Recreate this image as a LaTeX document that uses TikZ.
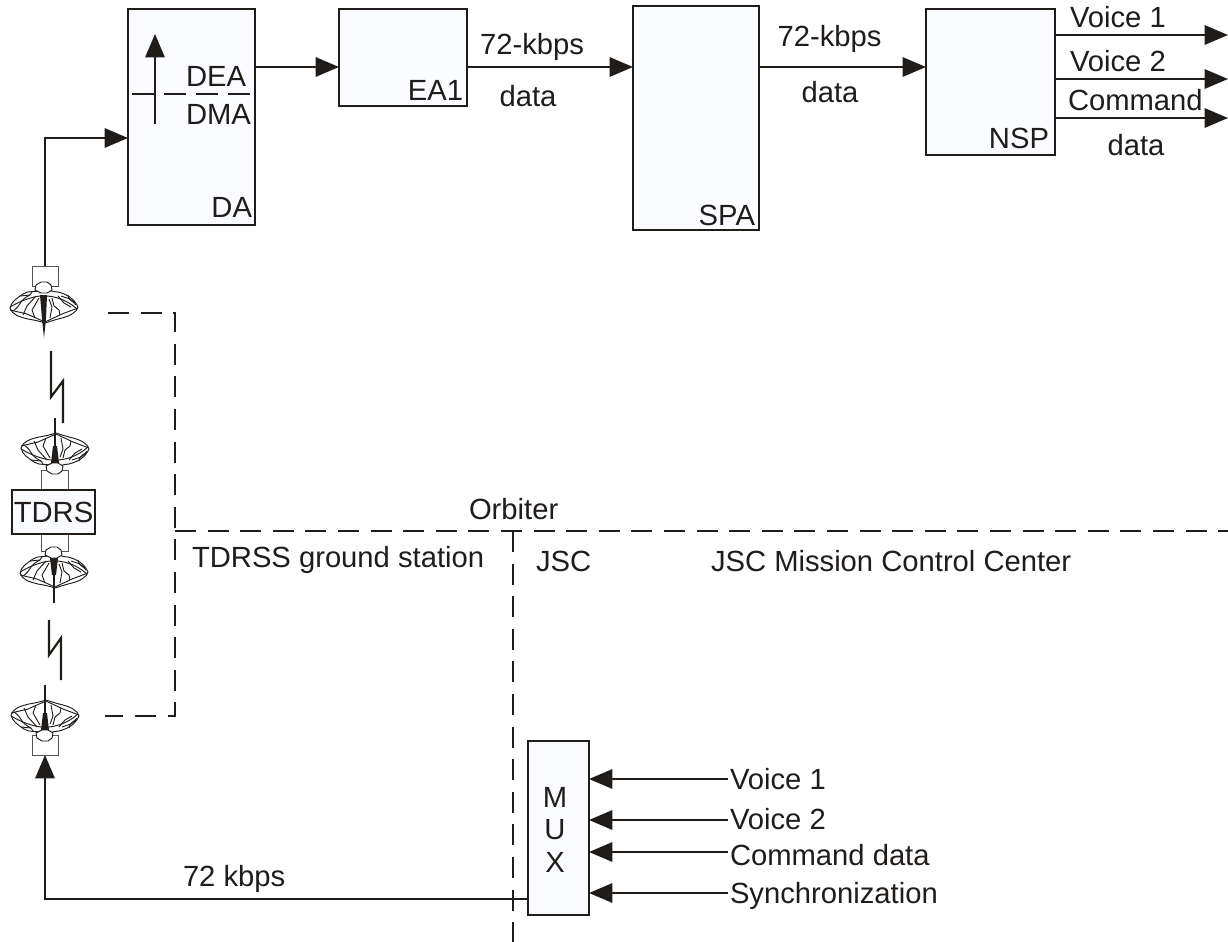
\documentclass[tikz,border=0pt]{standalone}
\usepackage{fontspec}
\setmainfont{Liberation Sans}
\usetikzlibrary{arrows.meta,calc}
\definecolor{boxfill}{HTML}{FBFCFF}
\definecolor{ink}{HTML}{1F1C1A}
\newcommand{\dishbody}{%
    \path[thin dish,fill=white] (-34,1) .. controls (-33,-5) and (-27,-9) .. (-21,-13)
      .. controls (-15,-17) and (-10,-14) .. (-3,-17)
      .. controls (5,-18) and (8,-15) .. (14,-15)
      .. controls (22,-13) and (30,-9) .. (34,0)
      .. controls (33,5) and (26,9) .. (18,11)
      .. controls (14,12) and (10,13) .. (1,16)
      .. controls (-5,14) and (-10,13) .. (-16,12)
      .. controls (-24,10) and (-32,8) .. (-34,1) -- cycle;
    \path[thin dish] (-34,3) -- (-17,7) -- (1,15) -- (18,7) -- (34,1);
    \path[thin dish] (-34,0) .. controls (-22,-7) and (-12,-10) .. (-4,-11)
      .. controls (8,-12) and (22,-8) .. (33,2);
    \path[thin dish] (-31,4) .. controls (-22,-2) and (-26,-6) .. (-14,-12)
      (24,-12) .. controls (24,-6) and (30,-6) .. (32,-2);
    \path[thin dish] (-8,-11) -- (-17,-1) -- (-21,8)
      (-5,-9) -- (-9,-2) -- (-12,3) -- (-9,11)
      (8,-9) -- (10,-1) -- (15,3) -- (16,8)
      (5,-8) -- (8,0) -- (6,11)
      (14,-11) -- (20,-4) -- (27,0)
      (-24,-11) -- (-14,-12) -- (-12,-15)
      (17,-11) -- (26,-8) -- (31,-4);
}
\newcommand{\dishneck}{%
    \path[thin dish,fill=white] (-9,-17) -- (-8,-22) -- (-3,-25) -- (3,-25) -- (7,-22) -- (8,-17) -- (3,-14) -- (-3,-14) -- cycle;
}
\tikzset{
  x=.75pt,y=-.75pt,
  every node/.style={font=\fontsize{21.9}{24}\selectfont,text=ink,inner sep=0pt,outer sep=0pt},
  blk/.style={draw=ink,line width=1.8pt,fill=boxfill,rectangle},
  stub/.style={draw=ink!75,line width=.6pt,fill=white,rectangle},
  lbl/.style={anchor=base west},
  rlbl/.style={anchor=base east},
  clbl/.style={anchor=base},
  wire/.style={draw=ink,line width=1.5pt},
  flow/.style={wire,-{Triangle[length=17.5pt,width=14.5pt]}},
  bound/.style={draw=ink,line width=1.5pt,dash pattern=on 15.7pt off 8.75pt},
  bolt/.style={draw=ink,line width=1.6pt,line join=miter},
  thin dish/.style={draw=ink,line width=.7pt,line join=round},
  pics/dishthick/.style={code={
    \dishbody
    \path[fill=ink] (-4,-12) -- (3,-12) -- (2,12) -- (0,31) -- (-2,12) -- cycle;
    \dishneck
  }},
  pics/dishthin/.style={code={
    \dishbody
    \path[fill=ink] (-4,-14) -- (4,-14) -- (2,3) -- (-2,3) -- cycle;
    \path[draw=ink,line width=1pt] (0,-12) -- (0,31);
    \dishneck
  }}
}
\begin{document}
\begin{tikzpicture}
\useasboundingbox (0,0) rectangle (1228,942);
% reference levels
\coordinate (lv67) at (0,67);
\coordinate (out1) at (1228,35);
\coordinate (out2) at (1228,79);
\coordinate (out3) at (1228,118);
\coordinate (m1) at (728,779);
\coordinate (m2) at (728,820);
\coordinate (m3) at (728,852);
\coordinate (m4) at (728,893);
\coordinate (inUp) at (45,138);
\coordinate (upCorner) at (45,899);
\coordinate (bstart) at (108,313);
\coordinate (bc1) at (175,313);
\coordinate (bc2) at (175,716);
\coordinate (bend) at (105,716);
\coordinate (hstart) at (175,531);
\coordinate (hend) at (1228,531);
\coordinate (vstart) at (513,531);
\coordinate (vend) at (513,942);

% blocks
\node[blk,minimum width=127*.75pt,minimum height=216*.75pt] (da) at (191.5,117) {};
\node[blk,minimum width=128*.75pt,minimum height=97*.75pt] (ea) at (403,57.5) {};
\node[blk,minimum width=126*.75pt,minimum height=224*.75pt] (spa) at (696,118) {};
\node[blk,minimum width=129*.75pt,minimum height=146*.75pt] (nsp) at (990.5,82) {};
\node[blk,minimum width=61*.75pt,minimum height=174*.75pt] (mux) at (558.5,828) {};

% boundaries
\draw[bound] (bstart) -- (bc1) -- (bc2) -- (bend);
\draw[bound] (hstart) -- (hend);
\draw[bound] (vstart) -- (vend);

% antennas
\node[stub,minimum width=26*.75pt,minimum height=20*.75pt] (ant1) at (45,276) {};
\pic at (44,307) {dishthick};
\node[stub,minimum width=27*.75pt,minimum height=20*.75pt] (ant2) at (54.5,480) {};
\node[stub,minimum width=27*.75pt,minimum height=17*.75pt] (ant3) at (54.5,542.5) {};
\node[blk,minimum width=83*.75pt,minimum height=44*.75pt] (tdrs) at (53.5,512) {TDRS};
\pic[yscale=-1] at (55,449) {dishthin};
\pic at (54,572) {dishthin};
\node[stub,minimum width=26*.75pt,minimum height=20*.75pt] (ant4) at (45,745) {};
\pic[yscale=-1] at (45,716) {dishthin};

% lightning
\draw[bolt] (51,351) -- (51,397) -- (63,381) -- (63,423);
\draw[bolt] (49,620) -- (49,655) -- (61,638) -- (61,680);

% connectors
\draw[flow] (ant1.north) -- (ant1.north |- inUp) -- (da.west |- inUp);
\draw[flow] (da.east |- lv67) -- (ea.west |- lv67);
\draw[flow] (ea.east |- lv67) -- (spa.west |- lv67);
\draw[flow] (spa.east |- lv67) -- (nsp.west |- lv67);
\draw[flow] (nsp.east |- out1) -- (out1);
\draw[flow] (nsp.east |- out2) -- (out2);
\draw[flow] (nsp.east |- out3) -- (out3);
\draw[flow] (mux.west |- upCorner) -- (ant4.south |- upCorner) -- (ant4.south);
\draw[flow] (m1) -- (mux.east |- m1);
\draw[flow] (m2) -- (mux.east |- m2);
\draw[flow] (m3) -- (mux.east |- m3);
\draw[flow] (m4) -- (mux.east |- m4);

% inside DA
\coordinate (daU0) at (155,124);
\coordinate (daU1) at (155,34);
\coordinate (daD0) at (132,94);
\coordinate (daD1) at (251,94);
\draw[flow] (daU0) -- (daU1);
\draw[wire,dash pattern=on 16.5pt off 7.5pt] (daD0) -- (daD1);

% labels
\node[rlbl] (tDA) at (252,217) {DA};
\node[lbl] (tDEA) at (186,87) {DEA};
\node[lbl] (tDMA) at (186,124) {DMA};
\node[rlbl] (tEA) at (463,100) {EA1};
\node[rlbl] (tSPA) at (755,225) {SPA};
\node[rlbl] (tNSP) at (1049,148) {NSP};
\node[clbl] (t1) at (532,55) {72-kbps};
\node[clbl] (t2) at (528,107) {data};
\node[clbl] (t3) at (829.5,47) {72-kbps};
\node[clbl] (t4) at (830,103) {data};
\node[lbl] (t5) at (1070,28) {Voice 1};
\node[lbl] (t6) at (1070,72) {Voice 2};
\node[lbl] (t7) at (1068,111) {Command};
\node[clbl] (t8) at (1136,155) {data};
\node[lbl] (t9) at (469,519) {Orbiter};
\node[lbl] (t10) at (192,567) {TDRSS ground station};
\node[lbl] (t11) at (536,571) {JSC};
\node[lbl] (t12) at (711,571) {JSC Mission Control Center};
\node[lbl] (t13) at (183,886) {72 kbps};
\node[lbl] (t14) at (730,789) {Voice 1};
\node[lbl] (t15) at (730,829) {Voice 2};
\node[lbl] (t16) at (730,865) {Command data};
\node[lbl] (t17) at (730,903) {Synchronization};
\node[clbl] (tM) at (555,807) {M};
\node[clbl] (tU) at (555,839) {U};
\node[clbl] (tX) at (555,872) {X};
\end{tikzpicture}
\end{document}
